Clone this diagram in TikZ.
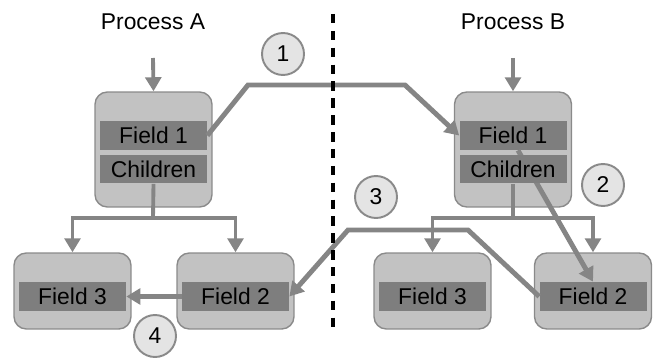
\documentclass[tikz,border=0pt]{standalone}
\usepackage{fontspec}
\setmainfont{Liberation Sans}
\usetikzlibrary{arrows.meta}
\definecolor{boxgray}{HTML}{C2C2C2}
\definecolor{edgegray}{HTML}{8A8A8A}
\definecolor{fieldgray}{HTML}{7E7E7E}
\definecolor{linegray}{HTML}{858585}
\definecolor{numgray}{HTML}{E4E4E4}
\tikzset{
	procbox/.style={draw=edgegray, line width=0.8pt, fill=boxgray, rounded corners=7pt, minimum width=2.34cm, inner sep=0pt},
	field/.style={fill=fieldgray, minimum width=2.14cm, minimum height=0.58cm, inner sep=0pt, font=\fontsize{13}{15}\selectfont},
	flow/.style={draw=linegray, line width=2.8pt, -{Triangle[length=8pt,width=9pt]}},
	tree/.style={draw=linegray, line width=2.2pt},
	treearrow/.style={tree, -{Triangle[length=8pt,width=9pt]}},
	numc/.style={circle, draw=edgegray, line width=1.1pt, fill=numgray, minimum size=0.84cm, inner sep=0pt, font=\fontsize{13}{15}\selectfont},
	title/.style={font=\fontsize{13}{15}\selectfont}
}

\begin{document}
\begin{tikzpicture}[x=0.02cm, y=-0.02cm]
	\useasboundingbox (0,0) rectangle (655,358);
	
	% titles
	\node[title] (tA) at (153,22) {Process A};
	\node[title] (tB) at (513,22) {Process B};
	
	% process A
	\node[procbox, minimum height=2.3cm] (pA) at (153.5,149.5) {};
	\node[field] (a1) at (153.5,135.5) {Field 1};
	\node[field] (a2) at (153.5,169) {Children};
	\coordinate (inA) at (153,58);
	\draw[treearrow] (inA) -- (pA.north);
	
	% children of A
	\node[procbox, minimum height=1.52cm] (lA3) at (72.5,291) {};
	\node[field] (a3) at (72.5,296.5) {Field 3};
	\node[procbox, minimum height=1.52cm] (lA2) at (235.5,291) {};
	\node[field] (a4) at (235.5,296.5) {Field 2};
	
	% children of B
	\node[procbox, minimum height=1.52cm] (lB3) at (432.5,291) {};
	\node[field] (b3) at (432.5,296.5) {Field 3};
	\node[procbox, minimum height=1.52cm] (lB2) at (593,291) {};
	\node[field] (b4) at (593,296.5) {Field 2};
	
	% process B (step 2 runs under the Children field)
	\node[procbox, minimum height=2.3cm] (pB) at (513,149.5) {};
	\node[field] (b1) at (513,135.5) {Field 1};
	\draw[flow] ([xshift=0.1cm]b1.south) -- (b4.north);
	\node[field] (b2) at (513,169) {Children};
	\coordinate (inB) at (513,58);
	\draw[treearrow] (inB) -- (pB.north);
	
	% trees
	\coordinate (jA) at (153,218);
	\draw[tree] (a2.south) -- (jA);
	\draw[treearrow] (jA) -| (lA3.north);
	\draw[treearrow] (jA) -| (lA2.north);
	\coordinate (jB) at (513,218);
	\draw[tree] (b2.south) -- (jB);
	\draw[treearrow] (jB) -| (lB3.north);
	\draw[treearrow] (jB) -| (lB2.north);
	
	% steps
	\draw[flow] (a1.east) -- (248,85) -- (405,85) -- (b1.west);
	\draw[flow] (b4.west) -- (468,230) -- (348,230) -- (a4.east);
	\draw[flow] (a4.west) -- (a3.east);
	
	% process border
	\draw[line width=2pt, dash pattern=on 5.4pt off 4.2pt] (333,14) -- (333,330);
	
	\node[numc] (n1) at (283,54) {1};
	\node[numc] (n2) at (603,185) {2};
	\node[numc] (n3) at (376,197) {3};
	\node[numc] (n4) at (155,336) {4};
\end{tikzpicture}
\end{document}
